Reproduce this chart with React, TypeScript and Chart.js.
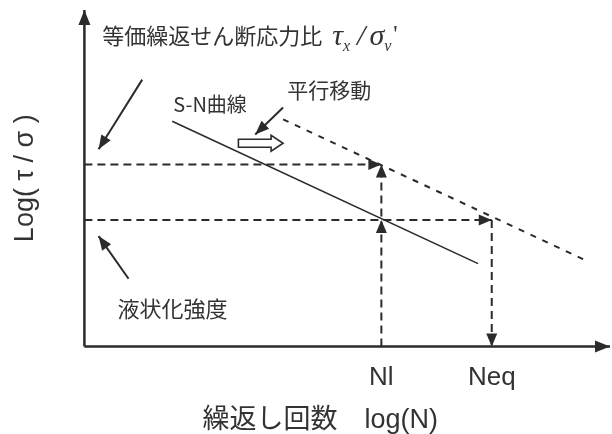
import React, { useEffect, useRef } from 'react';
import { Chart, registerables } from 'chart.js';

Chart.register(...registerables);

// ---- data (schematic values, in log units) ----
const axisMin = 0;
const axisMax = 10;
const NL = 5.65; // Nl
const NEQ = 7.75; // Neq
const levelEq = 5.41; // 等価繰返せん断応力比 level
const levelLiq = 3.76; // 液状化強度 level
const xTickValues = [NL, NEQ];
const xTickLabels = ['Nl', 'Neq'];
const snCurveX = [1.67, 7.49];
const snCurveY = [6.69, 2.46];
const shiftedX = [3.78, 9.52];
const shiftedY = [6.75, 2.57];
const pointerEqX = [1.1, 0.27];
const pointerEqY = [7.93, 5.86];
const pointerLiqX = [0.84, 0.27];
const pointerLiqY = [2.01, 3.28];
const pointerShiftX = [3.78, 3.25];
const pointerShiftY = [7.1, 6.3];
const hollowArrowX = [2.93, 3.78];
const hollowArrowY = [6.04, 6.04];

const titleText = '等価繰返せん断応力比';
const yAxisTitle = 'Log( τ / σ )';
const xAxisTitle = '繰返し回数\u3000log(N)\u3000\u3000';
const annotationTexts = [
  { text: 'S-N曲線', x: 1.69, y: 7.19, size: 20 },
  { text: '平行移動', x: 3.86, y: 7.63, size: 21 },
  { text: '液状化強度', x: 0.63, y: 1.12, size: 22 },
];
const titlePos = { x: 0.34, y: 9.23 };

const INK = '#2b2b2b';
const TEXT = '#333333';
const FAMILY = "'Liberation Sans', 'Noto Sans CJK JP', sans-serif";
const CJK = "'Noto Sans CJK JP', 'Liberation Sans', sans-serif";

const pts = (xs: number[], ys: number[]) => xs.map((x, i) => ({ x, y: ys[i] }));

function drawHead(ctx: CanvasRenderingContext2D, qx: number, qy: number, px: number, py: number, len: number, wid: number, color: string) {
  const a = Math.atan2(py - qy, px - qx);
  const cx = Math.cos(a), sx = Math.sin(a);
  const bx = px - cx * len, by = py - sx * len;
  ctx.save();
  ctx.fillStyle = color;
  ctx.beginPath();
  ctx.moveTo(px, py);
  ctx.lineTo(bx - sx * wid / 2, by + cx * wid / 2);
  ctx.lineTo(bx + sx * wid / 2, by - cx * wid / 2);
  ctx.closePath();
  ctx.fill();
  ctx.restore();
}

const arrowPlugin = {
  id: 'arrowheads',
  afterDatasetsDraw(chart: any) {
    const ctx = chart.ctx as CanvasRenderingContext2D;
    chart.data.datasets.forEach((ds: any, i: number) => {
      if (!ds.arrowAt) return;
      const p = chart.getDatasetMeta(i).data;
      ds.arrowAt.forEach((k: number) => {
        drawHead(ctx, p[k - 1].x, p[k - 1].y, p[k].x, p[k].y, ds.arrowLength || 13, ds.arrowWidth || 11, INK);
      });
    });
    // hollow block arrow (平行移動)
    const xs = chart.scales.x, ys = chart.scales.y;
    const x0 = xs.getPixelForValue(hollowArrowX[0]);
    const x1 = xs.getPixelForValue(hollowArrowX[1]);
    const y0 = ys.getPixelForValue(hollowArrowY[0]);
    const bh = 4, hh = 8, hl = 12;
    ctx.save();
    ctx.strokeStyle = INK;
    ctx.fillStyle = '#ffffff';
    ctx.lineWidth = 1.6;
    ctx.beginPath();
    ctx.moveTo(x0, y0 - bh);
    ctx.lineTo(x1 - hl, y0 - bh);
    ctx.lineTo(x1 - hl, y0 - hh);
    ctx.lineTo(x1, y0);
    ctx.lineTo(x1 - hl, y0 + hh);
    ctx.lineTo(x1 - hl, y0 + bh);
    ctx.lineTo(x0, y0 + bh);
    ctx.closePath();
    ctx.fill();
    ctx.stroke();
    ctx.restore();
  },
  afterDraw(chart: any) {
    const ctx = chart.ctx as CanvasRenderingContext2D;
    const xs = chart.scales.x, ys = chart.scales.y;
    ctx.save();
    ctx.fillStyle = TEXT;
    ctx.textBaseline = 'middle';
    ctx.textAlign = 'left';
    annotationTexts.forEach((t) => {
      ctx.font = `${t.size}px ${CJK}`;
      ctx.fillText(t.text, xs.getPixelForValue(t.x), ys.getPixelForValue(t.y));
    });
    // title with formula
    const tx = xs.getPixelForValue(titlePos.x);
    const ty = ys.getPixelForValue(titlePos.y);
    ctx.font = `22px ${CJK}`;
    ctx.fillText(titleText, tx, ty);
    let cx = tx + ctx.measureText(titleText).width + 10;
    const base = ty + 9;
    ctx.textBaseline = 'alphabetic';
    const big = "italic 30px 'Liberation Serif', 'DejaVu Serif', serif";
    const sub = "italic 16px 'Liberation Serif', 'DejaVu Serif', serif";
    const seq: [string, string, number, number][] = [
      ['τ', big, 0, 0],
      ['x', sub, 6, 7],
      ['/', big, 0, 4],
      ['σ', big, 0, 0],
      ['v', sub, 6, 2],
      ["'", "24px 'Liberation Serif', serif", -4, 0],
    ];
    seq.forEach(([s, f, dy, gap]) => {
      ctx.font = f;
      ctx.fillText(s, cx, base + dy);
      cx += ctx.measureText(s).width + gap;
    });
    ctx.restore();
  },
};

export default function App() {
  const ref = useRef<HTMLCanvasElement | null>(null);
  useEffect(() => {
    if (!ref.current) return;
    const line = (data: any[], extra: any = {}) => ({
      data,
      showLine: true,
      borderColor: INK,
      backgroundColor: INK,
      borderWidth: 2,
      pointRadius: 0,
      tension: 0,
      clip: false,
      ...extra,
    });
    const chart = new Chart(ref.current, {
      type: 'scatter',
      data: {
        datasets: [
          line(pts([axisMin, axisMin], [axisMin, axisMax]), { borderWidth: 2.5, arrowAt: [1], arrowLength: 15, arrowWidth: 12 }),
          line(pts([axisMin, axisMax], [axisMin, axisMin]), { borderWidth: 2.5, arrowAt: [1], arrowLength: 15, arrowWidth: 12 }),
          line(pts(snCurveX, snCurveY), { borderWidth: 1.6 }),
          line(pts(shiftedX, shiftedY), { borderWidth: 2, borderDash: [6, 7] }),
          line(pts([axisMin, NL], [levelEq, levelEq]), { borderDash: [8, 5], arrowAt: [1] }),
          line(pts([axisMin, NEQ], [levelLiq, levelLiq]), { borderDash: [8, 5], arrowAt: [1] }),
          line(pts([NL, NL, NL], [axisMin, levelLiq, levelEq]), { borderDash: [8, 5], arrowAt: [1, 2] }),
          line(pts([NEQ, NEQ], [levelLiq, axisMin]), { borderDash: [8, 5], arrowAt: [1] }),
          line(pts(pointerEqX, pointerEqY), { arrowAt: [1], arrowLength: 14, arrowWidth: 11 }),
          line(pts(pointerLiqX, pointerLiqY), { arrowAt: [1], arrowLength: 14, arrowWidth: 11 }),
          line(pts(pointerShiftX, pointerShiftY), { arrowAt: [1], arrowLength: 14, arrowWidth: 11 }),
        ] as any,
      },
      options: {
        animation: false,
        responsive: false,
        maintainAspectRatio: false,
        layout: { padding: { left: 0, top: 10, right: 2, bottom: -3 } },
        plugins: { legend: { display: false }, tooltip: { enabled: false } },
        scales: {
          x: {
            type: 'linear',
            min: axisMin,
            max: axisMax,
            grid: { display: false, drawTicks: false },
            border: { display: false },
            afterBuildTicks: (scale: any) => {
              scale.ticks = xTickValues.map((v) => ({ value: v }));
            },
            ticks: {
              autoSkip: false,
              maxRotation: 0,
              padding: 16,
              color: TEXT,
              font: { size: 26, family: FAMILY },
              callback: (_v: any, i: number) => xTickLabels[i],
            },
            title: {
              display: true,
              text: xAxisTitle,
              color: TEXT,
              font: { size: 27, family: FAMILY },
              padding: { top: -5, bottom: 0 },
            },
          },
          y: {
            type: 'linear',
            min: axisMin,
            max: axisMax,
            grid: { display: false, drawTicks: false },
            border: { display: false },
            ticks: { display: false },
            title: {
              display: true,
              text: yAxisTitle,
              color: TEXT,
              font: { size: 27, family: FAMILY },
              padding: { top: 9, bottom: 43 },
            },
          },
        },
      },
      plugins: [arrowPlugin],
    } as any);
    return () => chart.destroy();
  }, []);
  return (
    <div style={{ position: 'absolute', left: 0, top: 0, width: 612, height: 434, background: '#fff' }}>
      <canvas ref={ref} width={612} height={434} />
    </div>
  );
}
